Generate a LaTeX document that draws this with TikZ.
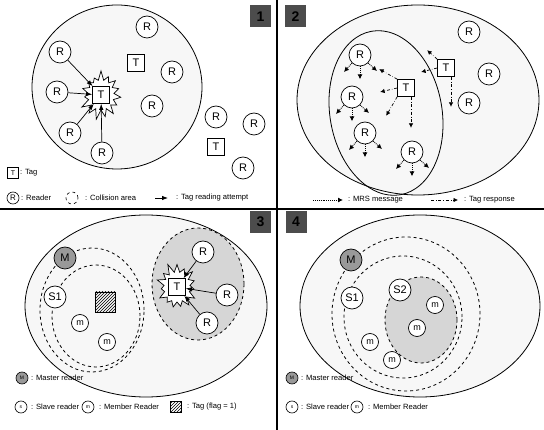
\documentclass[tikz,border=0pt]{standalone}
\usepackage{fontspec}
\setmainfont{Liberation Sans}
\usetikzlibrary{shapes.symbols,patterns,arrows.meta}
\tikzset{
 rdr/.style={circle,draw,fill=white,line width=0.7pt,minimum size=22pt,inner sep=0pt,font=\fontsize{11}{11}\selectfont},
 mem/.style={circle,draw,fill=white,line width=0.7pt,minimum size=17pt,inner sep=0pt,font=\fontsize{9}{9}\selectfont},
 mst/.style={rdr,fill=black!40},
 tagbox/.style={rectangle,draw,fill=white,line width=0.7pt,minimum size=17pt,inner sep=0pt,font=\fontsize{11}{11}\selectfont},
 hatchbox/.style={rectangle,draw,line width=0.8pt,minimum size=20pt,inner sep=0pt,pattern=north east lines},
 burst/.style={starburst,draw,fill=white,line width=0.7pt,starburst points=15,starburst point height=10pt,minimum width=46pt,minimum height=50pt,inner sep=0pt,random starburst=7},
 area/.style={draw,line width=0.8pt,fill=black!3},
 coll/.style={draw,dashed,line width=0.8pt,fill=black!16},
 dsh/.style={draw,dashed,line width=0.8pt},
 lg/.style={anchor=west,inner sep=0pt,font=\fontsize{7.6}{8}\selectfont},
 att/.style={-{Latex[length=6pt,width=4.5pt]},line width=0.7pt},
 mrs/.style={densely dotted,-{Latex[length=5pt,width=5pt]},line width=0.9pt},
 tresp/.style={dash dot,-{Latex[length=4.5pt,width=4.5pt]},line width=0.7pt},
 plabel/.style={rectangle,fill=black!70,minimum width=21pt,minimum height=22pt,inner sep=0pt,font=\bfseries\fontsize{14}{14}\selectfont,text=black},
 divider/.style={line width=1.4pt},
 licon/.style={circle,draw,fill=white,line width=0.6pt,minimum size=12pt,inner sep=0pt,font=\fontsize{5}{5}\selectfont},
 lbox/.style={rectangle,draw,fill=white,line width=0.6pt,minimum size=11pt,inner sep=0pt,font=\fontsize{7}{7}\selectfont},
}
\begin{document}
\begin{tikzpicture}[x=1pt,y=-1pt]
\useasboundingbox (0,0) rectangle (544,430);
\fill[white] (0,0) rectangle (544,430);

% ---------- dividers and panel labels
\draw[divider] (0,209) -- (544,209);
\draw[divider] (277,0) -- (277,430);
\node[plabel] (lab1) at (260.5,16.5) {1};
\node[plabel] (lab2) at (295.5,16.5) {2};
\node[plabel] (lab3) at (260.5,222) {3};
\node[plabel] (lab4) at (296,222) {4};

% ---------- Panel 1
\path[area] (117,87) ellipse [x radius=85pt, y radius=82pt];
\node[rdr] (r1a) at (147,27) {R};
\node[rdr] (r1b) at (60,52) {R};
\node[tagbox] (t1a) at (136,63) {T};
\node[rdr] (r1c) at (172,72) {R};
\node[rdr] (r1d) at (57,92) {R};
\node[burst] (b1) at (101,95) {};
\node[rdr] (r1e) at (152,106) {R};
\node[rdr] (r1f) at (70,133) {R};
\node[rdr] (r1g) at (102,153) {R};
\node[rdr] (r1h) at (216,117) {R};
\node[rdr] (r1i) at (254,124) {R};
\node[tagbox] (t1b) at (216,147) {T};
\node[rdr] (r1j) at (243,168) {R};
\node[tagbox] (t1c) at (101,95) {T};
\draw[att] (r1b) -- (t1c);
\draw[att] (r1d) -- (t1c);
\draw[att] (r1f) -- (t1c);
\draw[att] (r1g) -- (t1c);
% legend 1
\node[lbox] (lt1) at (13,173) {T};
\node[lg] (lt1t) at (20,173) {: Tag};
\node[licon,font=\fontsize{8}{8}\selectfont] (lr1) at (13,198) {R};
\node[lg] (lr1t) at (21,198) {: Reader};
\node[licon,dashed,fill=none] (lc1) at (72,198) {};
\node[lg] (lc1t) at (85,198) {: Collision area};
\coordinate (la1s) at (155,198);
\coordinate (la1e) at (168,198);
\draw[att,line width=0.8pt] (la1s) -- (la1e);
\node[lg] (la1t) at (176,198) {: Tag reading attempt};

% ---------- Panel 2
\path[area] (418,100) ellipse [x radius=121pt, y radius=95pt];
\path[draw,line width=0.8pt,rotate around={10:(386,113)}] (386,113) ellipse [x radius=56pt, y radius=83pt];
\node[rdr] (r2a) at (469,32) {R};
\node[rdr] (r2b) at (360,55) {R};
\node[tagbox] (t2b) at (446,68) {T};
\node[rdr] (r2c) at (489,74) {R};
\node[rdr] (r2d) at (352,97) {R};
\node[tagbox] (t2a) at (406,88) {T};
\node[rdr] (r2e) at (469,103) {R};
\node[rdr] (r2f) at (365,133) {R};
\node[rdr] (r2g) at (412,152) {R};
\foreach \n in {r2b,r2d,r2f,r2g}{
  \draw[mrs] (\n.south west) -- ++(-8,9);
  \draw[mrs] (\n.south) -- ++(0,13);
  \draw[mrs] (\n.south east) -- ++(9,8);
}
\draw[tresp] (t2a.north west) -- ++(-18,-10);
\draw[tresp] (t2a.west) -- ++(-17,4);
\draw[tresp] (t2a.south west) -- ++(-11,19);
\draw[tresp] ([xshift=5pt]t2a.south) -- ++(0,31);
\draw[tresp] (t2b.north west) -- ++(-10,-9);
\draw[tresp] (t2b.west) -- ++(-16,4);
\draw[tresp] ([xshift=5pt]t2b.south) -- ++(0,30);
% legend 2
\coordinate (lm2s) at (313,200);
\coordinate (lm2e) at (343,200);
\draw[mrs] (lm2s) -- (lm2e);
\node[lg] (lm2t) at (348,200) {: MRS message};
\coordinate (lt2s) at (431,200);
\coordinate (lt2e) at (458,200);
\draw[tresp] (lt2s) -- (lt2e);
\node[lg] (lt2t) at (464,200) {: Tag response};

% ---------- Panel 3
\path[area] (146,306) ellipse [x radius=121pt, y radius=91pt];
\path[coll] (198,284) ellipse [x radius=46pt, y radius=56pt];
\path[dsh] (92,310) ellipse [x radius=52pt, y radius=62pt];
\path[dsh] (96,316) ellipse [x radius=44pt, y radius=51pt];
\node[mst] (m3) at (65,258) {M};
\node[rdr] (s3) at (55,297) {S1};
\node[hatchbox] (h3) at (105,302) {};
\node[mem] (m3a) at (80,323) {m};
\node[mem] (m3b) at (107,342) {m};
\node[burst,random starburst=11] (b3) at (177,287) {};
\node[rdr] (r3a) at (203,252) {R};
\node[rdr] (r3b) at (227,295) {R};
\node[rdr] (r3c) at (207,323) {R};
\node[tagbox] (t3) at (177,287) {T};
\draw[att] (r3a) -- (t3);
\draw[att] (r3b) -- (t3);
\draw[att] (r3c) -- (t3);
% legend 3
\node[licon,fill=black!40] (lm3) at (22,378) {M};
\node[lg] (lm3t) at (31,378) {: Master reader};
\node[licon] (ls3) at (21,407) {s};
\node[lg] (ls3t) at (31,407) {: Slave reader};
\node[licon] (lme3) at (88,407) {m};
\node[lg] (lme3t) at (99,407) {: Member Reader};
\node[lbox,pattern=north east lines] (lh3) at (176,407) {};
\node[lg] (lh3t) at (187,407) {: Tag (flag = 1)};

% ---------- Panel 4
\path[area] (420,306) ellipse [x radius=120pt, y radius=91pt];
\path[dsh] (406,314) ellipse [x radius=74pt, y radius=77pt];
\path[dsh] (403,317) ellipse [x radius=59pt, y radius=61pt];
\path[coll] (421,320) ellipse [x radius=36pt, y radius=43pt];
\node[mst] (m4) at (351,260) {M};
\node[rdr] (s41) at (352,298) {S1};
\node[rdr] (s42) at (400,290) {S2};
\node[mem] (m4a) at (435,305) {m};
\node[mem] (m4b) at (417,328) {m};
\node[mem] (m4c) at (370,342) {m};
\node[mem] (m4d) at (392,360) {m};
% legend 4
\node[licon,fill=black!40] (lm4) at (292,378) {M};
\node[lg] (lm4t) at (301,378) {: Master reader};
\node[licon] (ls4) at (292,407) {s};
\node[lg] (ls4t) at (301,407) {: Slave reader};
\node[licon] (lme4) at (357,407) {m};
\node[lg] (lme4t) at (368,407) {: Member Reader};
\end{tikzpicture}
\end{document}
